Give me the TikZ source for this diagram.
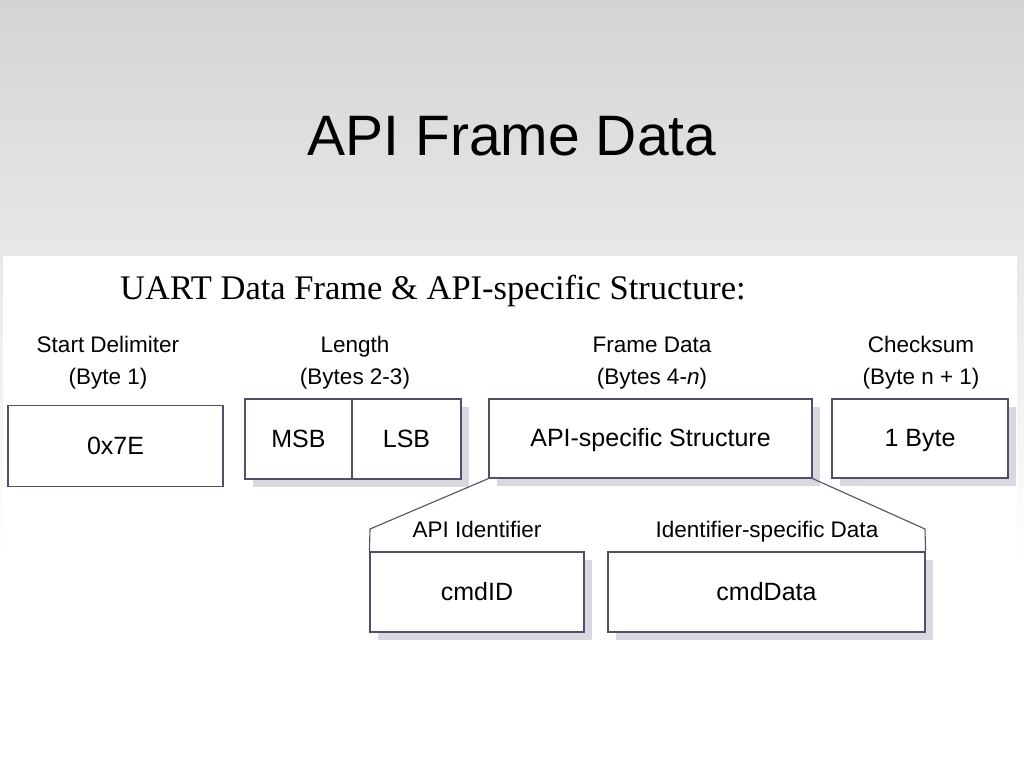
\documentclass[tikz,border=0pt]{standalone}
\usepackage{fontspec}
\setmainfont{Liberation Sans}
\newfontfamily\headserif{Liberation Serif}
\usetikzlibrary{shadows}
\definecolor{boxline}{RGB}{80,80,104}
\definecolor{shadowgray}{RGB}{216,216,224}
\definecolor{slidetop}{RGB}{212,212,212}
\tikzset{
  field/.style={draw=boxline, fill=white, line width=1.1pt, inner sep=0pt,
    text height=16pt, text depth=0pt, font=\fontsize{25}{30}\selectfont},
  shadowed/.style={drop shadow={shadow xshift=8pt, shadow yshift=-8pt,
    fill=shadowgray, opacity=1}},
  fieldlbl/.style={align=center, inner sep=0pt, font=\fontsize{22.5}{32}\selectfont,
    execute at begin node=\strut, execute at end node=\strut},
  sublbl/.style={anchor=base, inner sep=0pt, font=\fontsize{22.5}{32}\selectfont},
  link/.style={draw=boxline, line width=1.1pt}
}
\begin{document}
\begin{tikzpicture}[x=1pt,y=-1pt]
\useasboundingbox (0,0) rectangle (1024,768);
% slide background and pasted panel
\shade[top color=slidetop, bottom color=white] (0,0) rectangle (1024,560);
\fill[white] (0,560) rectangle (1024,768);
\fill[white] (3,256) rectangle (1017,652);
\node[anchor=base, inner sep=0pt, font=\fontsize{57}{60}\selectfont] (title) at (512,155) {API Frame Data};
\node[anchor=base west, inner sep=0pt, font=\headserif\fontsize{34.5}{38}\selectfont] (subtitle) at (120,299) {UART Data Frame \& API-specific Structure:};
% frame fields
\node[field, minimum width=215pt, minimum height=81pt] (start) at (115.5,446) {0x7E};
\node[field, shadowed, minimum width=107pt, minimum height=80pt] (msb) at (298.5,439) {MSB};
\node[field, shadowed, minimum width=109pt, minimum height=80pt] (lsb) at (406.5,439) {LSB};
\node[field, shadowed, minimum width=323pt, minimum height=79pt] (frame) at (650.5,438.5) {API-specific Structure};
\node[field, shadowed, minimum width=176pt, minimum height=79pt] (chk) at (920,438.5) {1 Byte};
\node[fieldlbl] (startlbl) at (108,365.5) {Start Delimiter\\(Byte 1)};
\node[fieldlbl] (lenlbl) at (355,365.5) {Length\\(Bytes 2-3)};
\node[fieldlbl] (framelbl) at (652,365.5) {Frame Data\\(Bytes 4-\textit{n})};
\node[fieldlbl] (chklbl) at (921,365.5) {Checksum\\(Byte n + 1)};
% API-specific structure
\node[field, shadowed, minimum width=214pt, minimum height=80pt] (cmdid) at (477,592) {cmdID};
\node[field, shadowed, minimum width=317pt, minimum height=80pt] (cmddata) at (766.5,592) {cmdData};
\node[sublbl] (idlbl) at (477,537) {API Identifier};
\node[sublbl] (datalbl) at (767,537) {Identifier-specific Data};
\coordinate (idtop) at (370,529);
\coordinate (datatop) at (925,529);
\draw[link] (frame.south west) -- (idtop) -- (cmdid.north west);
\draw[link] (frame.south east) -- (datatop) -- (cmddata.north east);
\end{tikzpicture}
\end{document}
